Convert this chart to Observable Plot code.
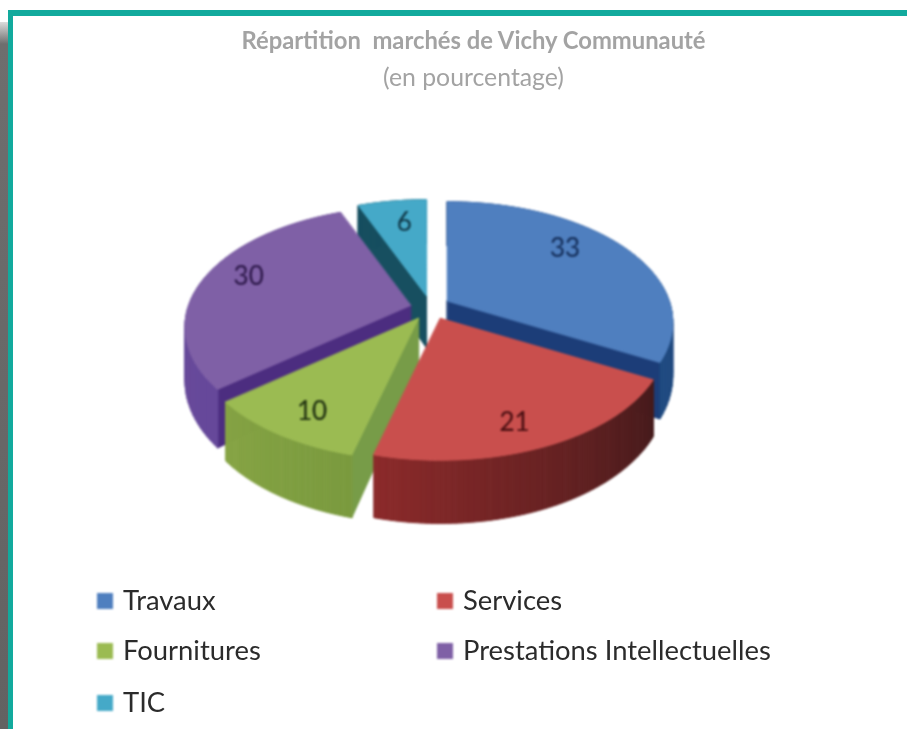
<!DOCTYPE html>
<html lang="fr">
<head>
<meta charset="utf-8">
<script src="https://cdn.jsdelivr.net/npm/d3@7"></script>
<script src="https://cdn.jsdelivr.net/npm/@observablehq/plot@0.6"></script>
<style>
html,body{margin:0;padding:0;background:#fff;overflow:hidden}
#page{position:relative;width:907px;height:729px;font-family:Lato,sans-serif;overflow:hidden}
#shadow{position:absolute;left:0;top:22px;width:8px;bottom:0;background:linear-gradient(to bottom,#dcdcdc 0,#6e6e6e 22px,#626262 100%)}
#frame{position:absolute;left:8px;top:10px;right:-10px;bottom:-10px;border-top:6px solid #12aa9d;border-left:5px solid #12aa9d}
#chart{position:absolute;left:0;top:0;filter:blur(.8px)}
.title{position:absolute;left:0;width:947px;text-align:center;color:#a3a3a3;font-weight:700;white-space:pre;filter:blur(.7px)}
.lg{position:absolute;color:#2b2b2b;font-size:27.4px;line-height:30px;white-space:pre;filter:blur(.7px)}
.sw{position:absolute;width:16px;height:16px;filter:blur(.8px)}
</style>
</head>
<body>
<div id="page">
  <div id="shadow"></div>
  <div id="frame"></div>
  <div id="chart"></div>
  <div class="title" style="top:26px;font-size:23.8px">Répartition  marchés de Vichy Communauté</div>
  <div class="title" style="top:62px;font-size:24.8px;font-weight:400">(en pourcentage)</div>
  <div id="legend"></div>
</div>
<script>
// Data
const categories = ["Travaux", "Services", "Fournitures", "Prestations Intellectuelles", "TIC"];
const values = [33, 21, 10, 30, 6];

// Look of each slice
const topColors = ["#4f7fbf", "#c94f4d", "#9bbb52", "#7f60a6", "#45a9c8"];
const wallFrom  = ["#1d3f78", "#451a1b", "#7a9a3e", "#66489a", "#174f60"];
const wallTo    = ["#1f4a80", "#8c2a2a", "#86a444", "#6a4e9a", "#174f60"];
const faceColors= ["#1c3d78", "#7b2422", "#779c48", "#4c2d80", "#174f60"];
const labelInk  = ["#16305c", "#4a0f12", "#1f3010", "#2f1a4c", "#123c4c"];

// 3D camera and explosion of each slice (fractions of the pie radius)
const centerX = 428, centerY = 306;
const radiusX = 222, radiusY = 116.6, perspective = 0.178, thickness = 52;
const explodeAcross = [0.085, 0.053, -0.044, -0.081, -0.010];
const explodeDepth  = [-0.05, 0.100, 0.100, -0.009, -0.094];
const sliceScale    = [1, 1, 1, 1, 0.97];
const labelAngle    = [50, 159.5, 211, 288.8, 351];
const labelRadius   = [0.753, 0.822, 0.816, 0.806, 0.738];

const project = (u, v) => {
  const d = 1 - perspective * v;
  return [radiusX * u / d, radiusY * v / d, thickness / d];
};
const total = d3.sum(values);
const rad = a => a * Math.PI / 180;

const polys = [];
const addPoly = (id, color, pts) => pts.forEach(p => polys.push({id, color, x: p[0], y: p[1]}));

const slices = [];
let acc = 0;
values.forEach((val, i) => {
  const a0 = acc / total * 360, a1 = (acc + val) / total * 360;
  acc += val;
  const ap = project(explodeAcross[i], explodeDepth[i]);
  const ax = centerX + ap[0], ay = centerY + ap[1];
  const s = sliceScale[i];
  const rim = a => {
    const p = project(Math.sin(rad(a)), -Math.cos(rad(a)));
    return [ax + s * p[0], ay + s * p[1], p[2]];
  };
  slices.push({i, a0, a1, ax, ay, rim});
});

// painter's order: back to front
const order = [4, 3, 2, 0, 1];
order.forEach(i => {
  const {a0, a1, ax, ay, rim} = slices[i];
  const apexD = thickness;
  // the cut face turned to the viewer
  [[a0, a0 - 90], [a1, a1 + 90]].forEach(([a, n], k) => {
    if (-Math.cos(rad(n)) > 0.01) {
      const r = rim(a);
      addPoly(`f${i}${k}`, faceColors[i], [[ax, ay], r, [r[0], r[1] + r[2]], [ax, ay + apexD]]);
    }
  });
  // the curved wall, in shaded strips
  const n = 60;
  const shade = d3.interpolateRgb(wallFrom[i], wallTo[i]);
  d3.range(n).forEach(j => {
    const b0 = a0 + (a1 - a0) * j / n, b1 = a0 + (a1 - a0) * (j + 1) / n;
    const r0 = rim(b0), r1 = rim(b1);
    addPoly(`w${i}-${j}`, shade(j / n), [r0, r1, [r1[0], r1[1] + r1[2]], [r0[0], r0[1] + r0[2]]]);
  });
  // the top face
  const top = [[ax, ay]];
  for (let j = 0; j <= n; j++) top.push(rim(a0 + (a1 - a0) * j / n));
  addPoly(`t${i}`, topColors[i], top);
});

const labels = values.map((val, i) => {
  const {ax, ay} = slices[i];
  const a = rad(labelAngle[i]), r = labelRadius[i], s = sliceScale[i];
  const p = project(r * Math.sin(a), -r * Math.cos(a));
  return {text: String(val), x: ax + s * p[0], y: ay + s * p[1], ink: labelInk[i]};
});

const chart = Plot.plot({
  width: 907, height: 729,
  margin: 0,
  style: {background: "transparent"},
  x: {domain: [0, 907], axis: null},
  y: {domain: [729, 0], axis: null},
  color: {type: "identity"},
  marks: [
    Plot.line(polys, {x: "x", y: "y", z: "id", fill: "color", stroke: "color", strokeWidth: 1, curve: "linear-closed"}),
    Plot.text(labels, {x: "x", y: "y", text: "text", fill: "ink", fontSize: 26, fontFamily: "Lato, sans-serif", stroke: "ink", strokeWidth: 0.2})
  ]
});
document.getElementById("chart").appendChild(chart);

// Legend
const legendLeft = [97, 437], legendTop = [593, 643, 695];
const legend = document.getElementById("legend");
categories.forEach((c, i) => {
  const col = legendLeft[i % 2], row = legendTop[Math.floor(i / 2)];
  const sw = document.createElement("div");
  sw.className = "sw";
  sw.style.cssText = `left:${col}px;top:${row}px;background:${topColors[i]}`;
  legend.appendChild(sw);
  const t = document.createElement("div");
  t.className = "lg";
  t.textContent = c;
  t.style.cssText = `left:${col + 26}px;top:${row - 8}px`;
  legend.appendChild(t);
});
</script>
</body>
</html>
